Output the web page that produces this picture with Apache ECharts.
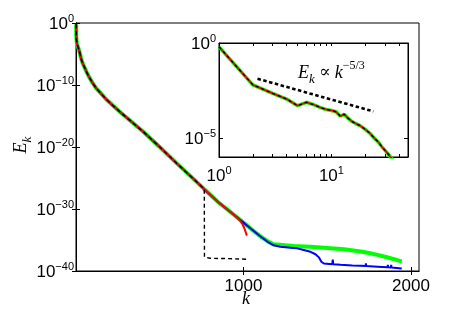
<!DOCTYPE html>
<html><head><meta charset="utf-8">
<script src="https://cdn.jsdelivr.net/npm/echarts@6/dist/echarts.min.js"></script>
<style>html,body{margin:0;padding:0;background:#fff}#c{width:463px;height:313px}</style>
</head><body><div id="c"></div>
<script>
// ---- data (E_k stored as log10 values) ----
const kCommon = [1,2,3,4,5,6,7,8,9,10,11,12,13,14,15,16,17,18,19,20,22,24,26,28,30,32,34,38,42,48,55,65,80,100,120,150,180,220,270,330,400,500,600,700,766,850,900,950];
const logECommon = [-0.2,-2.2,-2.65,-2.95,-3.3,-3.12,-3.25,-3.4,-3.5,-3.55,-3.62,-3.85,-3.75,-3.95,-4.1,-4.2,-4.28,-4.35,-4.45,-4.55,-4.75,-5.0,-5.2,-5.45,-5.65,-5.85,-6.05,-6.3,-6.6,-7.0,-7.4,-8.0,-8.8,-9.7,-10.5,-11.4,-12.3,-13.3,-14.5,-15.9,-17.5,-20.0,-22.6,-25.1,-26.8,-28.9,-30.0,-31.1];

const greenTailK = [1000,1050,1100,1150,1180,1250,1300,1400,1500,1600,1700,1750,1800,1850,1900,1945];
const greenTailLogE = [-32.2,-33.3,-34.4,-35.3,-35.7,-35.85,-35.95,-36.1,-36.3,-36.5,-36.85,-37.1,-37.4,-37.75,-38.1,-38.5];

const blueTailK = [1000,1050,1100,1150,1180,1220,1280,1320,1360,1400,1430,1450,1465,1480,1530,1533,1536,1580,1582,1584,1650,1700,1729,1731,1733,1800,1860,1862,1864,1880,1882,1884,1945];
const blueTailLogE = [-32.2,-33.3,-34.4,-35.4,-35.85,-36.1,-36.25,-36.35,-36.6,-36.9,-37.3,-37.8,-38.5,-38.8,-38.9,-38.15,-38.9,-39.0,-38.75,-39.0,-39.1,-39.15,-39.2,-38.75,-39.2,-39.3,-39.4,-39.0,-39.4,-39.45,-39.0,-39.45,-39.6];

const redTailK = [960,980,995,1005,1013,1020];
const redTailLogE = [-31.35,-31.9,-32.5,-33.1,-33.7,-34.3];

const blackCutK = 766;
const blackTailK = [767,800,900,1024];
const blackTailLogE = [-37.75,-37.95,-38.0,-38.1];

const slopeK = [2.2, 23.6];
const slopeLogE = [-1.88, -3.6];

const mainXTicks = [1000, 2000];
const mainYTicks = [1e-40, 1e-30, 1e-20, 1e-10, 1];
const insetXTicks = [1,2,3,4,5,6,7,8,9,10,20,30,40];
const insetXLabels = [1, 10];
const insetYTicks = [1e-5, 1];

// ---- build series data ----
const pair = (ks, ls) => ks.map((k, i) => [k, Math.pow(10, ls[i])]);
const common = pair(kCommon, logECommon);
const greenData = common.concat(pair(greenTailK, greenTailLogE));
const blueData = common.concat(pair(blueTailK, blueTailLogE));
const redData = common.filter(p => p[0] < redTailK[0]).concat(pair(redTailK, redTailLogE));
const blackData = common.filter(p => p[0] <= blackCutK).concat(pair(blackTailK, blackTailLogE));
const insetData = common.filter(p => p[0] <= 42);
const slopeData = pair(slopeK, slopeLogE);

const SANS = 'Liberation Sans, Arial, Helvetica, sans-serif';
const SERIF = 'Liberation Serif, DejaVu Serif, serif';
const sup = v => {
  const e = Math.round(Math.log10(v));
  return '{b|10}{e|' + (e < 0 ? '\u2212' + (-e) : e) + '}';
};
const richPow = {
  b: {fontSize: 17, fontFamily: SANS, color: '#000', padding: [3,0,0,0], verticalAlign: 'bottom'},
  e: {fontSize: 11, fontFamily: SANS, color: '#000', verticalAlign: 'top'}
};
const lineAx = {show: true, lineStyle: {color: '#000', width: 1}};
const tick = (vals, len) => ({show: true, inside: true, length: len, lineStyle: {color: '#000', width: 1}, customValues: vals});

const chart = echarts.init(document.getElementById('c'), null, {renderer: 'canvas'});
chart.setOption({
  animation: false,
  backgroundColor: '#fff',
  grid: [
    {left: 76, top: 23, width: 343, height: 248, show: true, borderColor: '#000', borderWidth: 1, backgroundColor: '#fff', containLabel: false, outerBoundsMode: 'none'},
    {left: 219, top: 43, width: 189, height: 114, show: true, borderColor: '#000', borderWidth: 1, backgroundColor: '#fff', containLabel: false, outerBoundsMode: 'none', z: 5}
  ],
  xAxis: [
    {gridIndex: 0, type: 'value', min: 0, max: 2048, position: 'bottom', axisLine: lineAx, splitLine: {show: false},
     axisTick: tick(mainXTicks, 4),
     axisLabel: {show: true, customValues: mainXTicks, formatter: v => String(v), fontSize: 17, fontFamily: SANS, color: '#000', margin: 7}},
    {gridIndex: 0, type: 'value', min: 0, max: 2048, position: 'top', axisLine: lineAx, splitLine: {show: false},
     axisTick: tick(mainXTicks, 4), axisLabel: {show: false}},
    {gridIndex: 1, type: 'log', min: 1, max: 48, position: 'bottom', axisLine: lineAx, splitLine: {show: false}, z: 6,
     axisTick: tick(insetXTicks, 3),
     axisLabel: {show: true, customValues: insetXLabels, formatter: sup, rich: richPow, margin: 8}},
    {gridIndex: 1, type: 'log', min: 1, max: 48, position: 'top', axisLine: lineAx, splitLine: {show: false}, z: 6,
     axisTick: tick(insetXTicks, 3), axisLabel: {show: false}}
  ],
  yAxis: [
    {gridIndex: 0, type: 'log', min: 1e-40, max: 1, position: 'left', axisLine: lineAx, splitLine: {show: false},
     axisTick: tick(mainYTicks, 4),
     axisLabel: {show: true, customValues: mainYTicks, formatter: sup, rich: richPow, margin: 2}},
    {gridIndex: 0, type: 'log', min: 1e-40, max: 1, position: 'right', axisLine: lineAx, splitLine: {show: false},
     axisTick: tick(mainYTicks, 4), axisLabel: {show: false}},
    {gridIndex: 1, type: 'log', min: 1e-6, max: 1, position: 'left', axisLine: lineAx, splitLine: {show: false}, z: 6,
     axisTick: tick(insetYTicks, 4),
     axisLabel: {show: true, customValues: insetYTicks, formatter: sup, rich: richPow, margin: 3}},
    {gridIndex: 1, type: 'log', min: 1e-6, max: 1, position: 'right', axisLine: lineAx, splitLine: {show: false}, z: 6,
     axisTick: tick(insetYTicks, 4), axisLabel: {show: false}}
  ],
  series: [
    {type: 'line', xAxisIndex: 0, yAxisIndex: 0, data: greenData, showSymbol: false, symbol: 'none', lineStyle: {color: '#00ff00', width: 4}, z: 2},
    {type: 'line', xAxisIndex: 0, yAxisIndex: 0, data: blueData, showSymbol: false, symbol: 'none', lineStyle: {color: '#0000ff', width: 2}, z: 2},
    {type: 'line', xAxisIndex: 0, yAxisIndex: 0, data: redData, showSymbol: false, symbol: 'none', lineStyle: {color: '#ff0000', width: 2}, z: 2},
    {type: 'line', xAxisIndex: 0, yAxisIndex: 0, data: blackData, showSymbol: false, symbol: 'none', lineStyle: {color: '#000', width: 1.4, type: [4, 3]}, z: 2},
    {type: 'line', xAxisIndex: 2, yAxisIndex: 2, data: insetData, showSymbol: false, symbol: 'none', lineStyle: {color: '#00ff00', width: 3.5}, z: 7},
    {type: 'line', xAxisIndex: 2, yAxisIndex: 2, data: insetData, showSymbol: false, symbol: 'none', lineStyle: {color: '#ff0000', width: 1.8}, z: 7},
    {type: 'line', xAxisIndex: 2, yAxisIndex: 2, data: insetData, showSymbol: false, symbol: 'none', lineStyle: {color: '#000', width: 1.4, type: [3, 3]}, z: 7},
    {type: 'line', xAxisIndex: 2, yAxisIndex: 2, data: slopeData, showSymbol: false, symbol: 'none', lineStyle: {color: '#000', width: 2.6, type: [3.5, 2.5]}, z: 7}
  ],
  graphic: [
    {type: 'text', x: 246, y: 299, z: 10, style: {text: 'k', font: 'italic 18px ' + SERIF, fill: '#000', align: 'center', verticalAlign: 'middle'}},
    {type: 'text', x: 23, y: 145, rotation: Math.PI / 2, z: 10, style: {
      text: '{i|E}{s|k}', align: 'center', verticalAlign: 'middle',
      rich: {i: {fontSize: 18, fontStyle: 'italic', fontFamily: SERIF, color: '#000', padding: [0,0,4,0], verticalAlign: 'top'},
             s: {fontSize: 13, fontStyle: 'italic', fontFamily: SERIF, color: '#000', verticalAlign: 'bottom'}}}},
    {type: 'text', x: 298, y: 73, z: 10, style: {
      text: '{i|E}{s|k}{o| \u221D }{i|k}{p|\u22125/3}', align: 'left', verticalAlign: 'middle',
      rich: {i: {fontSize: 18, fontStyle: 'italic', fontFamily: SERIF, color: '#000', padding: [4,0,4,0]},
             s: {fontSize: 13, fontStyle: 'italic', fontFamily: SERIF, color: '#000', verticalAlign: 'bottom'},
             o: {fontSize: 17, fontFamily: SERIF, color: '#000', padding: [4,0,4,0]},
             p: {fontSize: 12, fontFamily: SERIF, color: '#000', verticalAlign: 'top'}}}}
  ]
});
</script></body></html>
